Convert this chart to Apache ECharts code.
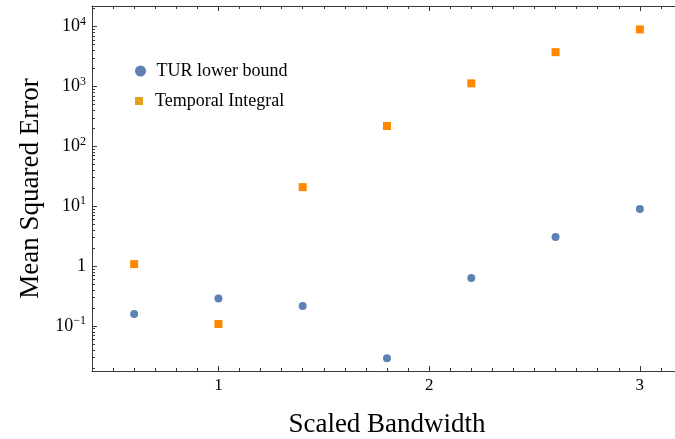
<!DOCTYPE html>
<html>
<head>
<meta charset="utf-8">
<script src="https://cdn.jsdelivr.net/npm/echarts@6/dist/echarts.min.js"></script>
<style>
html, body { margin: 0; padding: 0; background: #fff; }
#main { width: 675px; height: 439px; }
</style>
</head>
<body>
<div id="main"></div>
<script>
// data
var bandwidth = [0.6, 1.0, 1.4, 1.8, 2.2, 2.6, 3.0];
var turBound = [0.158, 0.289, 0.216, 0.0288, 0.633, 3.07, 9.0];
var temporalIntegral = [1.08, 0.108, 20.9, 219, 1130, 3750, 9020];
var seriesNames = ['TUR lower bound', 'Temporal Integral'];

// ticks
var xMajorTicks = [1, 2, 3];
var yMajorTicks = [0.1, 1, 10, 100, 1000, 10000];

var xMin = 0.4, xMax = 3.2;
var yMin = 0.0177, yMax = 22170;

var xMinorTicks = [];
for (var i = 5; i < 32; i++) {
    if (i % 10 !== 0) xMinorTicks.push(i / 10);
}
var yMinorTicks = [];
for (var n = -2; n <= 4; n++) {
    for (var k = 2; k <= 9; k++) {
        var v = k * Math.pow(10, n);
        if (v >= yMin && v <= yMax) yMinorTicks.push(v);
    }
}

var font = 'Liberation Serif';
var frameColor = '#3a3a3a';

function pairs(xs, ys) {
    return xs.map(function (x, i) { return [x, ys[i]]; });
}

function xAxisDef(pos, ticks, len, withLabels) {
    var ax = {
        type: 'value',
        min: xMin,
        max: xMax,
        position: pos,
        axisLine: { show: withLabels !== null, lineStyle: { color: frameColor, width: 1 } },
        axisTick: { inside: true, length: len, customValues: ticks, lineStyle: { color: frameColor, width: 1 } },
        axisLabel: { show: false },
        splitLine: { show: false }
    };
    if (withLabels) {
        ax.axisLabel = {
            show: true,
            customValues: xMajorTicks,
            margin: 6,
            color: '#000',
            fontFamily: font,
            fontSize: 17
        };
        ax.name = 'Scaled Bandwidth';
        ax.nameLocation = 'middle';
        ax.nameGap = 40;
        ax.nameTextStyle = { color: '#000', fontFamily: font, fontSize: 27 };
    }
    return ax;
}

var myChart = echarts.init(document.getElementById('main'));

var option = {
    animation: false,
    backgroundColor: '#fff',
    grid: {
        left: 92,
        top: 6,
        width: 590,
        height: 365,
        containLabel: false,
        outerBoundsMode: 'none'
    },
    legend: [{
        orient: 'vertical',
        left: 130,
        top: 55,
        itemWidth: 22,
        itemHeight: 11,
        selectedMode: false,
        textStyle: { color: '#000', fontFamily: font, fontSize: 18, lineHeight: 22 },
        data: [{ name: seriesNames[0], icon: 'circle' }]
    }, {
        orient: 'vertical',
        left: 130,
        top: 85,
        itemWidth: 22,
        itemHeight: 8,
        selectedMode: false,
        textStyle: { color: '#000', fontFamily: font, fontSize: 18, lineHeight: 22 },
        data: [{ name: seriesNames[1], icon: 'path://M0,0L10,0L10,10L0,10Z', itemStyle: { color: '#E5A024' } }]
    }],
    xAxis: [
        xAxisDef('bottom', xMajorTicks, 5, true),
        xAxisDef('bottom', xMinorTicks, 3, null),
        xAxisDef('top', xMajorTicks, 5, false),
        xAxisDef('top', xMinorTicks, 3, null)
    ],
    yAxis: [{
        type: 'log',
        logBase: 10,
        min: yMin,
        max: yMax,
        position: 'left',
        axisLine: { show: true, lineStyle: { color: frameColor, width: 1 } },
        axisTick: { inside: true, length: 5, customValues: yMajorTicks, lineStyle: { color: frameColor } },
        axisLabel: {
            customValues: yMajorTicks,
            margin: 6,
            color: '#000',
            fontFamily: font,
            fontSize: 18,
            formatter: function (value) {
                var e = Math.round(Math.log10(value));
                if (e === 0) return '{b|1}';
                return '{b|10}{s|' + (e < 0 ? '\u2212' + (-e) : e) + '}';
            },
            rich: {
                b: { fontFamily: font, fontSize: 18, lineHeight: 22, color: '#000' },
                s: { fontFamily: font, fontSize: 12, lineHeight: 11, verticalAlign: 'top', color: '#000' }
            }
        },
        splitLine: { show: false },
        name: 'Mean Squared Error',
        nameLocation: 'middle',
        nameGap: 47,
        nameTextStyle: { color: '#000', fontFamily: font, fontSize: 27 }
    }, {
        type: 'log',
        logBase: 10,
        min: yMin,
        max: yMax,
        position: 'left',
        axisLine: { show: false },
        axisTick: { inside: true, length: 3, customValues: yMinorTicks, lineStyle: { color: frameColor } },
        axisLabel: { show: false },
        splitLine: { show: false }
    }],
    series: [{
        name: seriesNames[0],
        type: 'scatter',
        symbol: 'circle',
        symbolSize: 8,
        itemStyle: { color: '#5E81B5', opacity: 1 },
        data: pairs(bandwidth, turBound)
    }, {
        name: seriesNames[1],
        type: 'scatter',
        symbol: 'rect',
        symbolSize: 8,
        itemStyle: { color: '#FF8800', opacity: 1 },
        data: pairs(bandwidth, temporalIntegral)
    }]
};

myChart.setOption(option);
</script>
</body>
</html>
